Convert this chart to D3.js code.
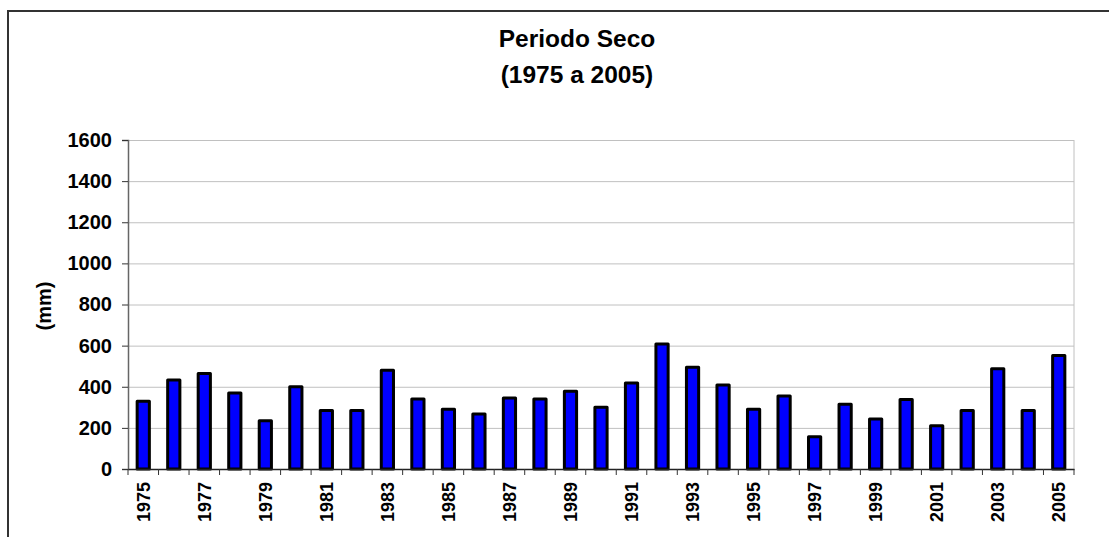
<!DOCTYPE html>
<html>
<head>
<meta charset="utf-8">
<script src="https://cdn.jsdelivr.net/npm/d3@7"></script>
<style>
  body { margin: 0; background: #ffffff; }
  text { font-family: "Liberation Sans", Arial, sans-serif; font-weight: bold; fill: #000; }
</style>
</head>
<body>
<script>
// Chart data
var years = ["1975", "1976", "1977", "1978", "1979", "1980", "1981", "1982", "1983", "1984",
  "1985", "1986", "1987", "1988", "1989", "1990", "1991", "1992", "1993", "1994",
  "1995", "1996", "1997", "1998", "1999", "2000", "2001", "2002", "2003", "2004", "2005"];
var rainfall = [330, 433, 465, 370, 235, 400, 285, 285, 480, 340,
  290, 268, 345, 340, 378, 300, 418, 608, 495, 408,
  290, 355, 157, 315, 243, 338, 210, 285, 488, 285, 552];
var yTicks = [0, 200, 400, 600, 800, 1000, 1200, 1400, 1600];
var xLabels = ["1975", "1977", "1979", "1981", "1983", "1985", "1987", "1989", "1991", "1993",
  "1995", "1997", "1999", "2001", "2003", "2005"];

// SVG area dimensions
var svgWidth = 1109;
var svgHeight = 537;

// Plot area bounds
var margin = { top: 140, right: 35, bottom: 68, left: 128 };
var chartWidth = svgWidth - margin.left - margin.right;
var chartHeight = svgHeight - margin.top - margin.bottom;

var svg = d3.select("body")
  .append("svg")
  .attr("width", svgWidth)
  .attr("height", svgHeight);

// outer frame (cut off at right and bottom like the original)
svg.append("rect")
  .attr("x", 8)
  .attr("y", 11)
  .attr("width", svgWidth + 20)
  .attr("height", svgHeight + 20)
  .attr("fill", "none")
  .attr("stroke", "#333")
  .attr("stroke-width", 2);

// title
svg.append("text")
  .attr("x", 577)
  .attr("y", 47)
  .attr("text-anchor", "middle")
  .attr("font-size", "24.5px")
  .text("Periodo Seco");

svg.append("text")
  .attr("x", 577)
  .attr("y", 83)
  .attr("text-anchor", "middle")
  .attr("font-size", "24.5px")
  .text("(1975 a 2005)");

var chartGroup = svg.append("g")
  .attr("transform", `translate(${margin.left}, ${margin.top})`);

// scales
var xBandScale = d3.scaleBand()
  .domain(years)
  .range([0, chartWidth])
  .paddingInner(0.6)
  .paddingOuter(0.3);

var yLinearScale = d3.scaleLinear()
  .domain([0, 1600])
  .range([chartHeight, 0]);

// gridlines
chartGroup.append("g")
  .attr("class", "grid")
  .call(d3.axisLeft(yLinearScale).tickValues(yTicks).tickSize(-chartWidth).tickFormat(""))
  .call(g => g.select(".domain").remove())
  .selectAll("line")
  .attr("stroke", "#c0c0c0");

// right border of plot area
chartGroup.append("line")
  .attr("x1", chartWidth)
  .attr("x2", chartWidth)
  .attr("y1", 0)
  .attr("y2", chartHeight)
  .attr("stroke", "#c0c0c0");

// bars
chartGroup.selectAll(".bar")
  .data(rainfall)
  .enter()
  .append("rect")
  .attr("class", "bar")
  .attr("x", (d, i) => xBandScale(years[i]))
  .attr("y", d => yLinearScale(d))
  .attr("width", xBandScale.bandwidth())
  .attr("height", d => chartHeight - yLinearScale(d))
  .attr("fill", "#0000ff")
  .attr("stroke", "#000")
  .attr("stroke-width", 3)
  .attr("stroke-linejoin", "round");

// left axis
chartGroup.append("g")
  .call(d3.axisLeft(yLinearScale).tickValues(yTicks).tickFormat(d3.format("d")).tickSize(6).tickPadding(10))
  .call(g => g.select(".domain").attr("stroke", "#666").attr("stroke-width", 1.5))
  .call(g => g.selectAll(".tick line").attr("stroke", "#333"))
  .selectAll("text")
  .attr("font-size", "20px")
  .attr("font-family", "Liberation Sans, Arial, sans-serif");

// bottom axis: labels every other year
var bottomAxis = chartGroup.append("g")
  .attr("transform", `translate(0, ${chartHeight})`)
  .call(d3.axisBottom(xBandScale).tickValues(xLabels).tickSize(0));

bottomAxis.select(".domain")
  .attr("stroke", "#222")
  .attr("stroke-width", 1.5);

bottomAxis.selectAll("text")
  .attr("transform", "rotate(-90)")
  .attr("x", -13)
  .attr("y", 0)
  .attr("dy", "0.36em")
  .attr("text-anchor", "end")
  .attr("font-size", "18px")
  .attr("font-family", "Liberation Sans, Arial, sans-serif");

// tick marks between the categories
var step = xBandScale.step();
var boundaries = years.map(y => xBandScale(y) - (step - xBandScale.bandwidth()) / 2);
boundaries.push(chartWidth);

bottomAxis.selectAll(".sep")
  .data(boundaries)
  .enter()
  .append("line")
  .attr("class", "sep")
  .attr("x1", d => d)
  .attr("x2", d => d)
  .attr("y1", 0)
  .attr("y2", 6)
  .attr("stroke", "#333");

// y axis label
svg.append("text")
  .attr("transform", "translate(51, 306) rotate(-90)")
  .attr("text-anchor", "middle")
  .attr("font-size", "20px")
  .text("(mm)");
</script>
</body>
</html>
